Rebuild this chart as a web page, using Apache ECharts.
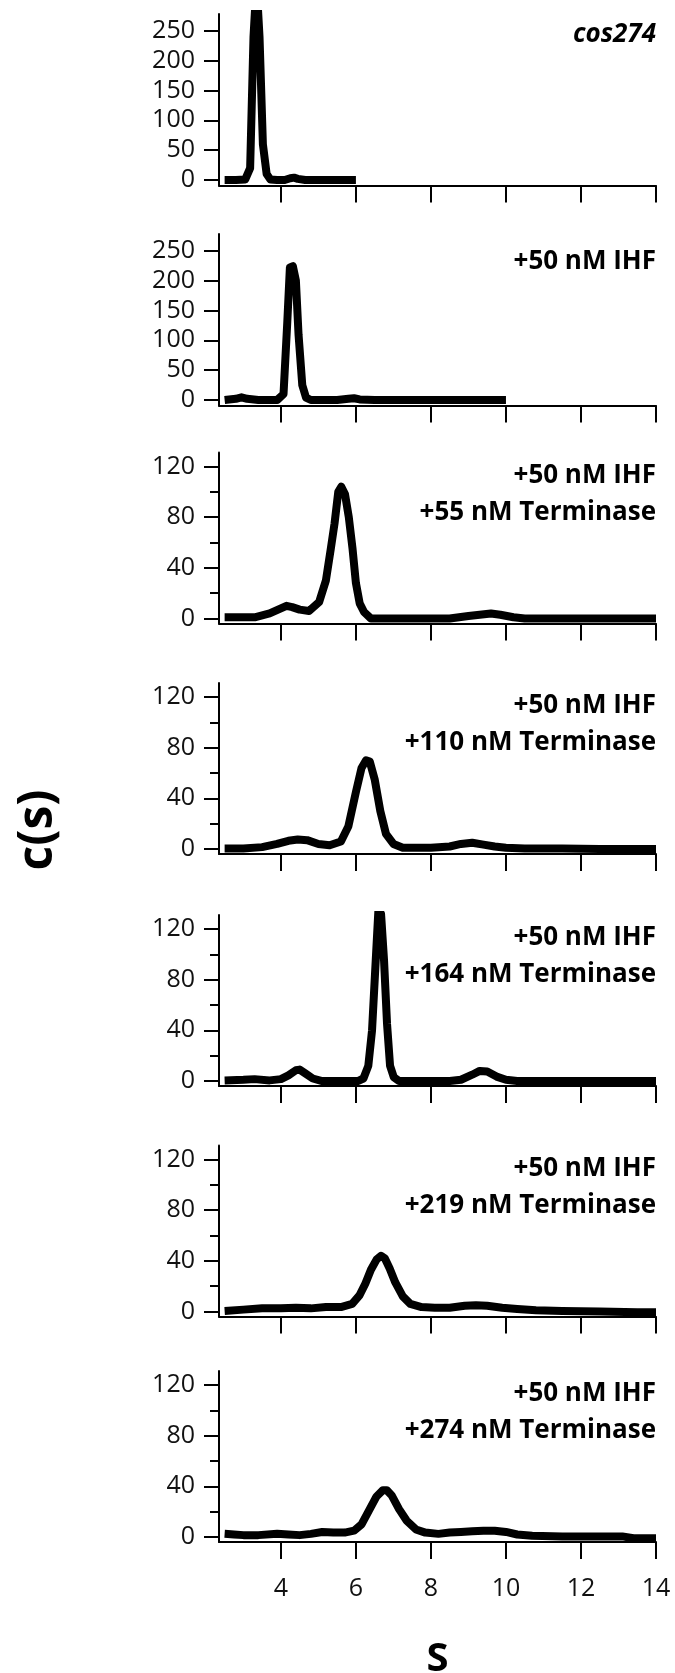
<!DOCTYPE html>
<html>
<head>
<meta charset="utf-8">
<script src="https://cdn.jsdelivr.net/npm/echarts@6/dist/echarts.min.js"></script>
<style>
html,body{margin:0;padding:0;background:#fff;}
#chart{width:675px;height:1673px;}
</style>
</head>
<body>
<div id="chart"></div>
<script>
// ---- data (sedimentation coefficient S, c(s)) ----
const panelLabels = [
  'cos274',
  '+50 nM IHF',
  '+50 nM IHF\n+55 nM Terminase',
  '+50 nM IHF\n+110 nM Terminase',
  '+50 nM IHF\n+164 nM Terminase',
  '+50 nM IHF\n+219 nM Terminase',
  '+50 nM IHF\n+274 nM Terminase'
];
const xTickValues = [4, 6, 8, 10, 12, 14];
const yTicksLarge = [0, 50, 100, 150, 200, 250];
const yTicksSmall = [0, 40, 80, 120];
const yMinorSmall = [20, 60, 100];

const s1 = [2.5, 2.8, 3.05, 3.18, 3.27, 3.35, 3.43, 3.52, 3.62, 3.72, 3.9, 4.1, 4.25, 4.35, 4.45, 4.65, 5.0, 5.5, 6.0];
const c1 = [0, 0, 1, 20, 240, 330, 240, 60, 10, 1, 0, 0, 3, 4, 2, 0, 0, 0, 0];

const s2 = [2.5, 2.8, 2.95, 3.1, 3.4, 3.9, 4.07, 4.17, 4.24, 4.32, 4.4, 4.47, 4.57, 4.67, 4.8, 5.5, 5.8, 5.95, 6.1, 6.5, 8.0, 10.0];
const c2 = [0, 2, 4.5, 2, 0, 0, 10, 130, 222, 224, 200, 110, 25, 4, 0, 0, 2, 3, 1, 0, 0, 0];

const s3 = [2.5, 2.9, 3.3, 3.7, 4.0, 4.15, 4.3, 4.5, 4.75, 5.02, 5.2, 5.33, 5.43, 5.53, 5.61, 5.71, 5.81, 5.91, 6.0, 6.1, 6.22, 6.4, 7.0, 8.5, 9.0, 9.3, 9.6, 9.85, 10.2, 10.5, 12.0, 14.0];
const c3 = [1, 1, 1, 4, 8, 10, 9, 7, 6, 13, 30, 55, 75, 100, 104, 98, 80, 55, 28, 12, 5, 0, 0, 0, 2, 3, 4, 3, 1, 0, 0, 0];

const s4 = [2.5, 3.0, 3.5, 3.9, 4.2, 4.45, 4.7, 5.0, 5.3, 5.6, 5.8, 6.0, 6.15, 6.27, 6.37, 6.5, 6.65, 6.8, 7.0, 7.25, 8.0, 8.5, 8.8, 9.1, 9.4, 9.7, 10.0, 10.5, 11.5, 12.5, 14.0];
const c4 = [0.5, 0.5, 1.5, 4, 6.5, 7.5, 7, 4, 3, 6, 18, 45, 64, 70, 69, 55, 30, 12, 4, 1, 1, 2, 4, 5, 3.5, 2, 1, 0.5, 0.5, 0, 0];

const s5 = [2.5, 3.0, 3.3, 3.7, 4.0, 4.2, 4.4, 4.5, 4.65, 4.85, 5.1, 5.5, 6.05, 6.2, 6.33, 6.43, 6.51, 6.6, 6.67, 6.75, 6.83, 6.91, 7.01, 7.15, 7.35, 8.5, 8.8, 9.1, 9.3, 9.5, 9.75, 10.0, 10.3, 11.0, 14.0];
const c5 = [0.5, 1, 1.5, 0.5, 1.5, 4.5, 8.5, 9, 6, 2, 0, 0, 0, 2, 12, 40, 85, 135, 132, 95, 45, 12, 3, 0, 0, 0, 1, 5, 8, 7.5, 3.5, 1, 0, 0, 0];

const s6 = [2.5, 3.0, 3.5, 4.0, 4.4, 4.8, 5.2, 5.6, 5.9, 6.1, 6.25, 6.4, 6.55, 6.67, 6.77, 6.9, 7.05, 7.25, 7.45, 7.75, 8.1, 8.5, 8.9, 9.2, 9.5, 9.9, 10.3, 10.8, 11.5, 12.5, 13.5, 14.0];
const c6 = [0.5, 1.5, 2.5, 2.5, 3, 2.5, 3.5, 3.5, 6, 13, 22, 33, 41, 44, 42, 34, 23, 12, 6, 3.5, 3, 3, 4.5, 5, 4.5, 3, 2, 1, 0.5, 0, -0.5, -0.5];

const s7 = [2.5, 2.75, 3.0, 3.4, 3.9, 4.2, 4.5, 4.8, 5.1, 5.4, 5.7, 5.95, 6.15, 6.35, 6.55, 6.72, 6.82, 6.95, 7.15, 7.35, 7.6, 7.85, 8.2, 8.5, 8.8, 9.1, 9.4, 9.7, 10.0, 10.3, 10.7, 11.5, 12.5, 13.1, 13.4, 14.0];
const c7 = [2.5, 2, 1.5, 1.5, 2.5, 2, 1.5, 2.5, 4, 3.5, 3.5, 5, 10, 21, 32, 37, 37, 33, 22, 13, 6, 3.5, 2.5, 3.5, 4, 4.5, 5, 5, 4, 2, 1, 0.5, 0.5, 0.5, -1, -1];

const sData = [s1, s2, s3, s4, s5, s6, s7];
const cData = [c1, c2, c3, c4, c5, c6, c7];

// ---- layout ----
const FONT = "'Open Sans', 'DejaVu Sans', sans-serif";
const gridLeft = 219, gridRight = 19, plotRight = 675 - gridRight;
const panels = [
  {top: 14.0,  bottom: 185.4, min: -9, max: 278, big: true,  labelY: 16.5},
  {top: 234.0, bottom: 405.4, min: -9, max: 278, big: true,  labelY: 243.5},
  {top: 452.5, bottom: 623.6, min: -4, max: 131, big: false, labelY: 457},
  {top: 683.0, bottom: 854.1, min: -4, max: 131, big: false, labelY: 687.5},
  {top: 915.0, bottom: 1086.1, min: -4, max: 131, big: false, labelY: 919.5},
  {top: 1145.5, bottom: 1316.6, min: -4, max: 131, big: false, labelY: 1150},
  {top: 1371.0, bottom: 1542.1, min: -4, max: 131, big: false, labelY: 1375.5}
];

const grids = [], xAxes = [], yAxes = [], series = [], graphics = [];
panels.forEach((p, i) => {
  grids.push({left: gridLeft, right: gridRight, top: p.top, height: p.bottom - p.top, containLabel: false, outerBoundsMode: 'none'});
  const last = i === panels.length - 1;
  xAxes.push({
    type: 'value', gridIndex: i, min: 2.35, max: 14,
    axisLine: {show: true, onZero: false, lineStyle: {color: '#000', width: 2}},
    axisTick: {show: true, customValues: xTickValues, length: 17, inside: false, lineStyle: {color: '#000', width: 2}},
    axisLabel: {show: last, customValues: xTickValues, margin: 34, color: '#111', fontSize: 25, fontFamily: FONT},
    splitLine: {show: false},
    name: last ? 'S' : '',
    nameLocation: 'middle', nameGap: 98,
    nameTextStyle: {fontSize: 40, fontWeight: 'bold', color: '#000', fontFamily: FONT}
  });
  const ticks = p.big ? yTicksLarge : yTicksSmall;
  yAxes.push({
    type: 'value', gridIndex: i, min: p.min, max: p.max,
    axisLine: {show: true, onZero: false, lineStyle: {color: '#000', width: 2}},
    axisTick: {show: true, customValues: ticks, length: 15, lineStyle: {color: '#000', width: 2}},
    axisLabel: {show: true, customValues: ticks, margin: 24, color: '#111', fontSize: 25, fontFamily: FONT},
    splitLine: {show: false}
  });
  const yIndex = yAxes.length - 1;
  if (!p.big) {
    yAxes.push({
      type: 'value', gridIndex: i, min: p.min, max: p.max, position: 'left',
      axisLine: {show: false},
      axisTick: {show: true, customValues: yMinorSmall, length: 9, lineStyle: {color: '#000', width: 2}},
      axisLabel: {show: false},
      splitLine: {show: false}
    });
  }
  series.push({
    type: 'line', xAxisIndex: i, yAxisIndex: yIndex,
    data: sData[i].map((s, k) => [s, cData[i][k]]),
    showSymbol: false, symbol: 'none', clip: true,
    lineStyle: {color: '#000', width: 8, join: 'round', cap: 'butt'},
    animation: false
  });
  graphics.push({
    type: 'text', x: plotRight, y: p.labelY,
    style: {text: panelLabels[i], fontSize: 26, fontWeight: 'bold', fontStyle: i === 0 ? 'italic' : 'normal',
      fontFamily: FONT, fill: '#000', align: 'right', verticalAlign: 'top', lineHeight: 37}
  });
});
graphics.push({
  type: 'text', x: 38, y: 830, rotation: Math.PI / 2,
  style: {text: 'c(s)', fontSize: 48, fontWeight: 'bold', fontFamily: FONT, fill: '#000',
    align: 'center', verticalAlign: 'middle'}
});

const chart = echarts.init(document.getElementById('chart'), null, {renderer: 'canvas'});
chart.setOption({
  backgroundColor: '#fff',
  animation: false,
  grid: grids,
  xAxis: xAxes,
  yAxis: yAxes,
  series: series,
  graphic: graphics
});
</script>
</body>
</html>
